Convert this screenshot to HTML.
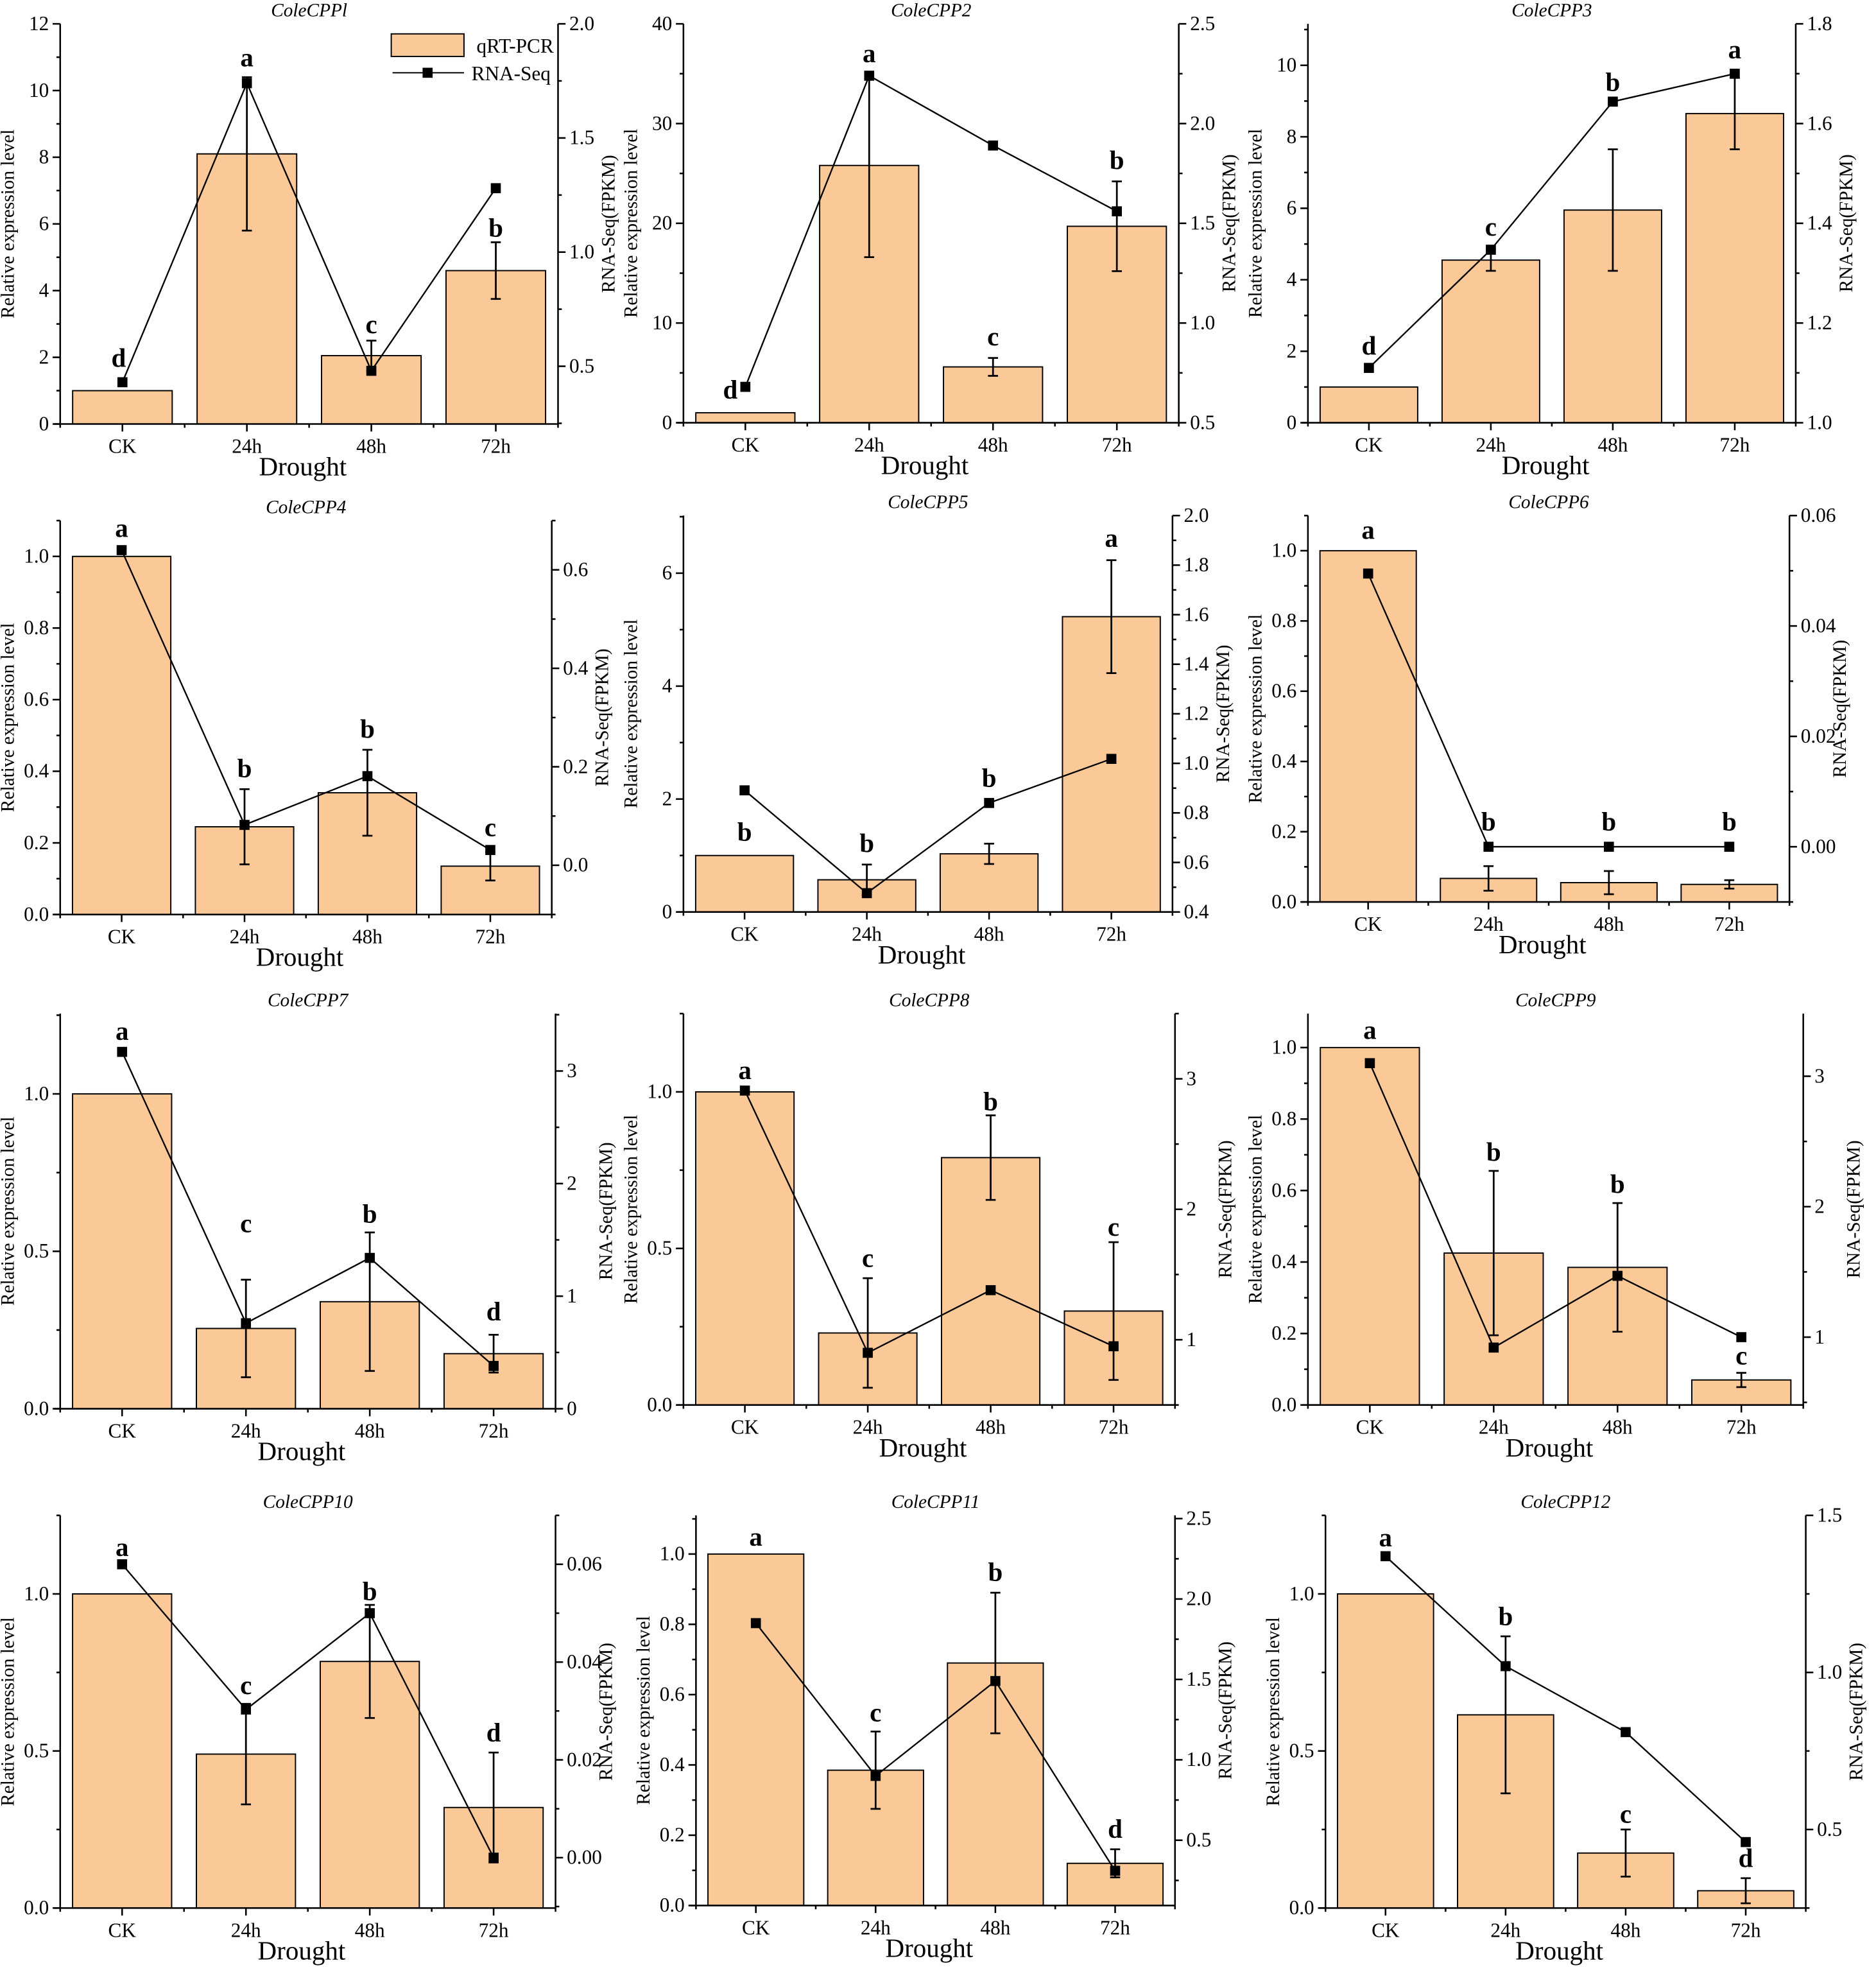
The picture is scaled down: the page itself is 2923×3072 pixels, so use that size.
<!DOCTYPE html>
<html><head><meta charset="utf-8"><style>
html,body{margin:0;padding:0;background:#fff}
svg{display:block}
text{font-family:"Liberation Serif",serif;fill:#000}
</style></head><body>
<svg id="fig" xmlns="http://www.w3.org/2000/svg" width="2923" height="3072" viewBox="0 0 1496 1572" preserveAspectRatio="none"></svg>
<script>
const categories = ["CK","24h","48h","72h"];
const titles = ["ColeCPPl","ColeCPP2","ColeCPP3","ColeCPP4","ColeCPP5","ColeCPP6","ColeCPP7","ColeCPP8","ColeCPP9","ColeCPP10","ColeCPP11","ColeCPP12"];
const barValues = [[1,8.1,2.05,4.6],[1,25.8,5.6,19.7],[1,4.55,5.95,8.65],[1,0.245,0.34,0.135],[1,0.57,1.03,5.23],[1,0.067,0.055,0.05],[1,0.255,0.34,0.175],[1,0.23,0.79,0.30],[1,0.425,0.385,0.07],[1,0.49,0.785,0.32],[1,0.385,0.69,0.12],[1,0.615,0.175,0.055]];
const errValues = [[0,2.3,0.45,0.85],[0,9.2,0.9,4.5],[0,0.3,1.7,1.0],[0,0.105,0.12,0.04],[0,0.27,0.18,1.0],[0,0.035,0.033,0.012],[0,0.155,0.22,0.06],[0,0.175,0.135,0.22],[0,0.23,0.18,0.02],[0,0.16,0.18,0.175],[0,0.11,0.2,0.04],[0,0.25,0.075,0.04]];
const rnaValues = [[0.43,1.74,0.48,1.28],[0.68,2.24,1.89,1.56],[1.11,1.347,1.644,1.70],[0.64,0.082,0.181,0.031],[0.891,0.476,0.84,1.018],[0.0495,0,0,0],[3.17,0.76,1.34,0.38],[2.91,0.90,1.38,0.95],[3.10,0.92,1.47,1.0],[0.06,0.0303,0.050,0],[1.85,0.90,1.49,0.31],[1.37,1.02,0.81,0.46]];
const letters = [["d","a","c","b"],["d","a","c","b"],["d","c","b","a"],["a","b","b","c"],["b","b","b","a"],["a","b","b","b"],["a","c","b","d"],["a","c","b","c"],["a","b","b","c"],["a","c","b","d"],["a","c","b","d"],["a","b","c","d"]];
const letterValues = [[1.95,10.95,2.95,5.85],[3.2,36.9,8.5,26.2],[2.12,5.45,9.5,10.4],[1.075,0.405,0.515,0.24],[1.4,1.2,2.35,6.6],[1.055,0.225,0.225,0.225],[1.195,0.585,0.615,0.305],[1.065,0.465,0.965,0.565],[1.045,0.705,0.615,0.135],[1.145,0.705,1.005,0.555],[1.045,0.545,0.945,0.215],[1.175,0.925,0.295,0.155]];
const letterShift = [[-3,0,0,0],[-12,0,0,0],[0,0,0,0],[0,0,0,0],[0,0,0,0],[0,0,0,0],[0,0,0,0],[0,0,0,0],[0,0,0,0],[0,0,0,0],[0,0,0,0],[0,0,0,0]];
const leftRange = [[0,12],[0,40],[0,11.16],[0,1.10],[0,7.02],[0,1.10],[0,1.255],[0,1.25],[0,1.095],[0,1.25],[0,1.11],[0,1.25]];
const leftTicks = [[0,2,4,6,8,10,12],[0,10,20,30,40],[0,2,4,6,8,10],[0,0.2,0.4,0.6,0.8,1.0],[0,2,4,6],[0,0.2,0.4,0.6,0.8,1.0],[0,0.5,1.0],[0,0.5,1.0],[0,0.2,0.4,0.6,0.8,1.0],[0,0.5,1.0],[0,0.2,0.4,0.6,0.8,1.0],[0,0.5,1.0]];
const leftDigits = [0,0,0,1,0,1,1,1,1,1,1,1];
const rightRange = [[0.247,2.0],[0.5,2.5],[1.0,1.8],[-0.1,0.70],[0.4,2.0],[-0.01,0.06],[0,3.51],[0.5,3.5],[0.48,3.48],[-0.0103,0.070],[0.094,2.52],[0.25,1.5]];
const rightTicks = [[0.5,1.0,1.5,2.0],[0.5,1.0,1.5,2.0,2.5],[1.0,1.2,1.4,1.6,1.8],[0,0.2,0.4,0.6],[0.4,0.6,0.8,1.0,1.2,1.4,1.6,1.8,2.0],[0,0.02,0.04,0.06],[0,1,2,3],[1,2,3],[1,2,3],[0,0.02,0.04,0.06],[0.5,1.0,1.5,2.0,2.5],[0.5,1.0,1.5]];
const rightDigits = [1,1,1,1,1,2,0,0,0,2,1,1];
const panelBoxes = [[48,19,445,338],[545,19,940,337],[1043,19,1432,337],[48,415,440,729],[545,411,935,727],[1043,411,1427,719],[48,808,443,1123],[545,808,937,1120],[1043,808,1438,1120],[48,1208,443,1521],[555,1208,937,1519],[1057,1208,1440,1521]];

const NS="http://www.w3.org/2000/svg";
const svg=document.getElementById('fig');
function mk(tag,attrs,parent,txt){const e=document.createElementNS(NS,tag);for(const k in attrs)e.setAttribute(k,attrs[k]);if(txt!==undefined)e.textContent=txt;parent.appendChild(e);return e;}

for(let p=0;p<12;p++){
  const [L,T,R,B]=panelBoxes[p];
  const g=mk('g',{},svg);
  
  
  const yL=v=>B-(v-leftRange[p][0])/(leftRange[p][1]-leftRange[p][0])*(B-T);
  const yR=v=>B-(v-rightRange[p][0])/(rightRange[p][1]-rightRange[p][0])*(B-T);
  const slot=(R-L)/4;
  const xC=i=>L+(i+0.5)*slot;
  const bw=slot*0.8;
  for(let i=0;i<4;i++){
    const v=barValues[p][i];
    const r=mk('rect',{x:xC(i)-bw/2,y:yL(v),width:bw,height:B-yL(v),fill:'#fbc997',stroke:'#000','stroke-width':1},g);
    
    
  }
  for(let i=0;i<4;i++){
    const e=errValues[p][i]; if(!e) continue;
    const v=barValues[p][i];
    const eg=mk('g',{stroke:'#000','stroke-width':1.4},g);
    
    
    mk('line',{x1:xC(i),x2:xC(i),y1:yL(v-e),y2:yL(v+e)},eg);
    mk('line',{x1:xC(i)-4,x2:xC(i)+4,y1:yL(v-e),y2:yL(v-e)},eg);
    mk('line',{x1:xC(i)-4,x2:xC(i)+4,y1:yL(v+e),y2:yL(v+e)},eg);
  }
  const pts=rnaValues[p].map((v,i)=>xC(i)+','+yR(v)).join(' ');
  const pl=mk('polyline',{points:pts,fill:'none',stroke:'#000','stroke-width':1.2},g);
  
  
  for(let i=0;i<4;i++){
    const m=mk('rect',{x:xC(i)-4,y:yR(rnaValues[p][i])-4,width:8,height:8,fill:'#000'},g);
    
    
  }
  for(let i=0;i<4;i++){
    const t=mk('text',{x:xC(i)+letterShift[p][i],y:yL(letterValues[p][i])+6,'text-anchor':'middle','font-size':21,'font-weight':'bold'},g,letters[p][i]);
    
    
  }
  const ax=mk('g',{stroke:'#000','stroke-width':1.3},g);
  
  
  mk('line',{x1:L,x2:L,y1:T,y2:B},ax);
  mk('line',{x1:R,x2:R,y1:T,y2:B},ax);
  mk('line',{x1:L-5,x2:R,y1:B,y2:B},ax);
  for(let i=0;i<=4;i++){const x=L+i*slot;mk('line',{x1:x,x2:x,y1:B,y2:B+3},ax);}
  for(let i=0;i<4;i++){mk('line',{x1:xC(i),x2:xC(i),y1:B,y2:B+6},ax);}
  const lt=leftTicks[p];const lstep=lt[1]-lt[0];
  for(let k=0;k<lt.length;k++){
    const y=yL(lt[k]);
    mk('line',{x1:L-6,x2:L,y1:y,y2:y},ax);
    const t=mk('text',{x:L-9,y:y+5,'text-anchor':'end','font-size':16},g,lt[k].toFixed(leftDigits[p]));
    
    
    const ym=yL(lt[k]+lstep/2); if(ym>=T-0.5) mk('line',{x1:L-3,x2:L,y1:ym,y2:ym},ax);
  }
  const rt=rightTicks[p];const rstep=rt[1]-rt[0];
  const rm0=yR(rt[0]-rstep/2); if(rm0<=B) mk('line',{x1:R,x2:R+3,y1:rm0,y2:rm0},ax);
  for(let k=0;k<rt.length;k++){
    const y=yR(rt[k]);
    mk('line',{x1:R,x2:R+6,y1:y,y2:y},ax);
    const t=mk('text',{x:R+9,y:y+5,'text-anchor':'start','font-size':16},g,rt[k].toFixed(rightDigits[p]));
    
    
    const ym=yR(rt[k]+rstep/2); if(ym>=T-0.5) mk('line',{x1:R,x2:R+3,y1:ym,y2:ym},ax);
  }
  for(let i=0;i<4;i++){
    const t=mk('text',{x:xC(i),y:B+23,'text-anchor':'middle','font-size':16},g,categories[i]);
    
    
  }
  const xt=mk('text',{x:(L+R)/2-5,y:B+41,'text-anchor':'middle','font-size':21},g,'Drought');
  
  
  const tt=mk('text',{x:(L+R)/2,y:T-6,'text-anchor':'middle','font-size':15,'font-style':'italic'},g,titles[p]);
  
  
  const ly=(T+B)/2;
  const yl=mk('text',{x:0,y:0,'text-anchor':'middle','font-size':15,transform:`translate(${L-37},${ly}) rotate(-90)`},g,'Relative expression level');
  
  
  const yr=mk('text',{x:0,y:0,'text-anchor':'middle','font-size':15,transform:`translate(${R+45},${ly}) rotate(-90)`},g,'RNA-Seq(FPKM)');
  
  
}
const lg=mk('g',{},svg);


mk('rect',{x:312,y:27,width:58,height:18,fill:'#fbc997',stroke:'#000','stroke-width':1},lg);
mk('text',{x:380,y:42,'font-size':16},lg,'qRT-PCR');
mk('line',{x1:313,x2:370,y1:58,y2:58,stroke:'#000','stroke-width':1},lg);
mk('rect',{x:337,y:54,width:8,height:8,fill:'#000'},lg);
mk('text',{x:376,y:64,'font-size':16},lg,'RNA-Seq');
</script>
</body></html>
